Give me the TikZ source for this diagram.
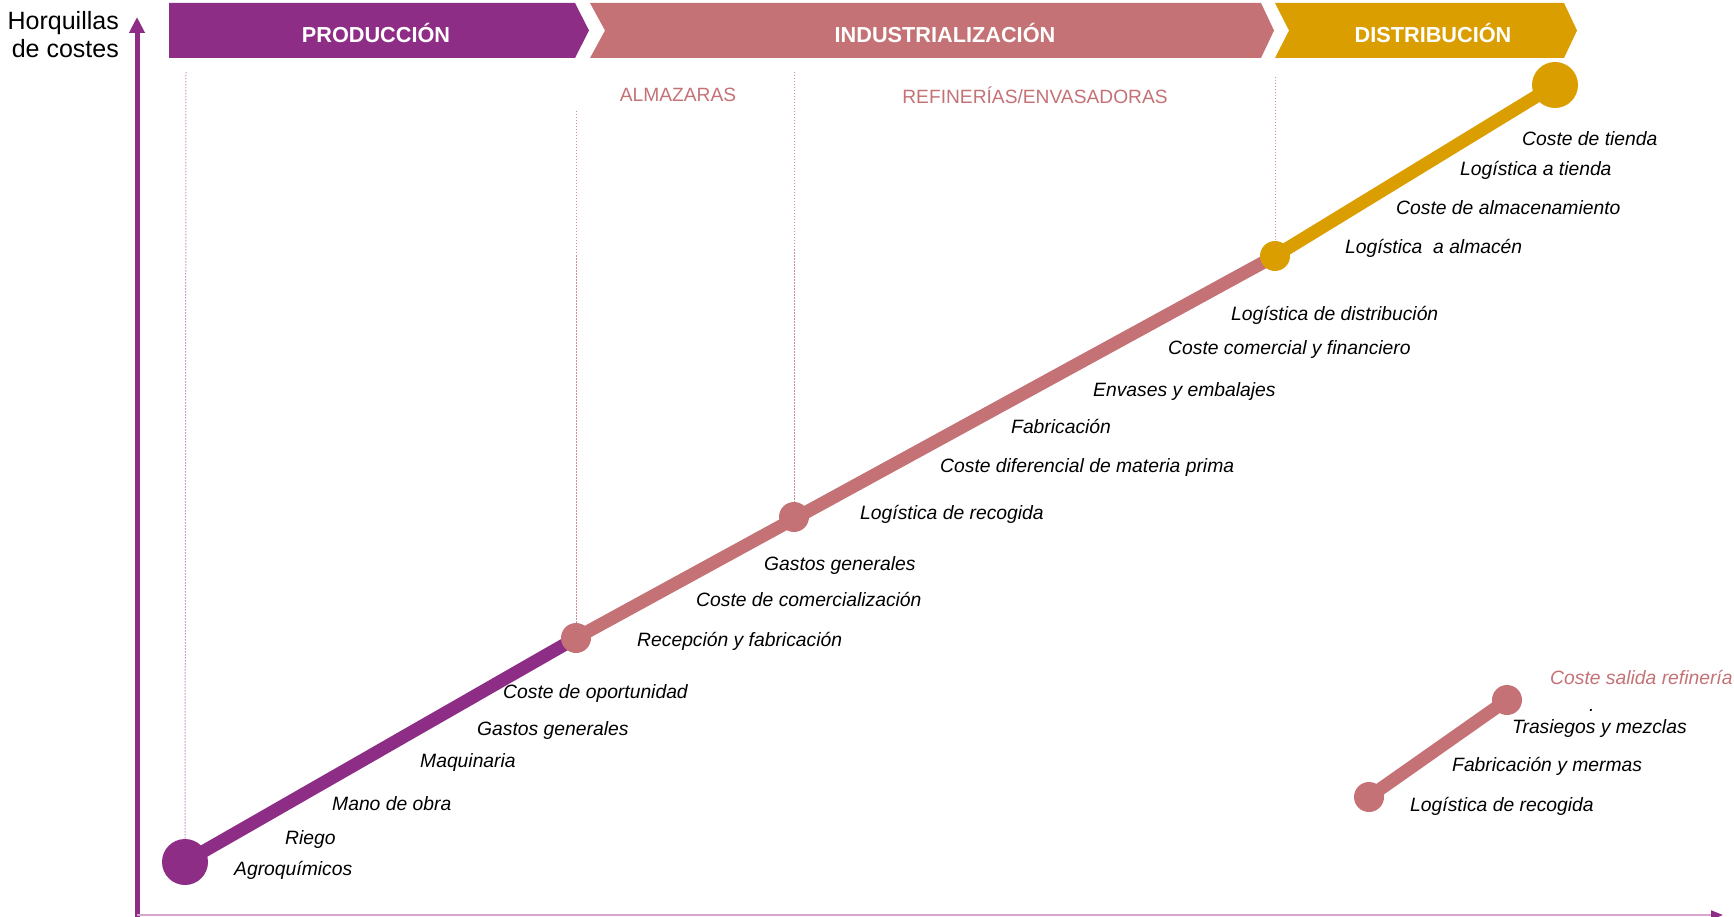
\documentclass[tikz,border=0pt]{standalone}
\usepackage{fontspec}
\setmainfont{Liberation Sans}
\usetikzlibrary{arrows.meta,backgrounds}
\definecolor{cpurple}{RGB}{142,45,134}
\definecolor{cpink}{RGB}{196,114,118}
\definecolor{cgold}{RGB}{219,158,0}
\definecolor{caxis}{RGB}{214,165,210}
\begin{document}
\begin{tikzpicture}[x=1pt,y=-1pt,
  lbl/.style={anchor=west,font=\fontsize{19.3}{23}\selectfont\itshape,inner sep=0pt,text height=14pt,text depth=4pt,yshift=-1.5pt},
  head/.style={font=\fontsize{21.7}{26}\selectfont\bfseries,text=white,inner sep=0pt},
  sub/.style={font=\fontsize{19.2}{23}\selectfont,text=cpink,inner sep=0pt},
  dot/.style={circle,inner sep=0pt,minimum size=30pt,fill=#1},
  bigdot/.style={circle,inner sep=0pt,minimum size=46pt,fill=#1},
  seg/.style={line width=13pt,draw=#1},
  guide/.style={draw=#1,line width=1pt,dash pattern=on 1.5pt off 1.5pt}]
\useasboundingbox (0,0) rectangle (1734,917);

% axes
\coordinate (ybot) at (137,917);
\coordinate (ytop) at (137,17);
\coordinate (xl) at (137,915);
\coordinate (xr) at (1723,915);
\draw[cpurple,line width=5pt,-{Triangle[length=16pt,width=15pt]}] (ybot) -- (ytop);
\draw[caxis,line width=2pt,-{Triangle[length=12pt,width=9pt,color=cpurple]}] (xl) -- (xr);
\node[anchor=east,align=right,font=\fontsize{25}{28}\selectfont,inner sep=0pt] (ylab) at (119,35) {Horquillas\\de costes};

% banners
\fill[cpurple] (169,3) -- (575,3) -- (589,30.5) -- (575,58) -- (169,58) -- cycle;
\fill[cpink] (590,3) -- (1261,3) -- (1274,30.5) -- (1261,58) -- (590,58) -- (605,30.5) -- cycle;
\fill[cgold] (1275,3) -- (1564,3) -- (1577,30.5) -- (1564,58) -- (1275,58) -- (1289,30.5) -- cycle;
\node[head] (hprod) at (376,33) {PRODUCCIÓN};
\node[head] (hind) at (945,33) {INDUSTRIALIZACIÓN};
\node[head] (hdist) at (1433,33) {DISTRIBUCIÓN};

\node[sub] (almaz) at (678,95) {ALMAZARAS};
\node[sub] (refin) at (1035,95) {REFINERÍAS/ENVASADORAS};

% guides
\coordinate (g1a) at (186,72);
\coordinate (g2a) at (576,111);
\coordinate (g3a) at (794,72);
\coordinate (g4a) at (1275,77);

% dots
\node[bigdot=cpurple] (d0) at (185,862) {};
\node[dot=cpink] (d1) at (576,638) {};
\node[dot=cpink] (d2) at (794,517) {};
\node[dot=cgold] (d3) at (1275,256) {};
\node[bigdot=cgold] (d4) at (1555,85) {};
\node[dot=cpink] (s0) at (1369,797) {};
\node[dot=cpink] (s1) at (1507,700) {};

\begin{scope}[on background layer]
\draw[guide=caxis!80!cpurple] (g1a) -- (d0.center);
\draw[guide=cpink!80] (g2a) -- (d1.center);
\draw[guide=cpink!80] (g3a) -- (d2.center);
\draw[guide=cpink!80] (g4a) -- (d3.center);
\draw[seg=cpurple] (d0.center) -- (d1.center);
\draw[seg=cpink] (d1.center) -- (d3.center);
\draw[seg=cgold] (d3.center) -- (d4.center);
\draw[seg=cpink] (s0.center) -- (s1.center);
\end{scope}

% labels
\node[lbl] (l1) at (234,869) {Agroquímicos};
\node[lbl] (l2) at (285,838) {Riego};
\node[lbl] (l3) at (332,804) {Mano de obra};
\node[lbl] (l4) at (420,761) {Maquinaria};
\node[lbl] (l5) at (477,729) {Gastos generales};
\node[lbl] (l6) at (503,692) {Coste de oportunidad};
\node[lbl] (l7) at (637,640) {Recepción y fabricación};
\node[lbl] (l8) at (696,600) {Coste de comercialización};
\node[lbl] (l9) at (764,564) {Gastos generales};
\node[lbl] (l10) at (860,513) {Logística de recogida};
\node[lbl] (l11) at (940,466) {Coste diferencial de materia prima};
\node[lbl] (l12) at (1011,427) {Fabricación};
\node[lbl] (l13) at (1093,390) {Envases y embalajes};
\node[lbl] (l14) at (1168,348) {Coste comercial y financiero};
\node[lbl] (l15) at (1231,314) {Logística de distribución};
\node[lbl] (l16) at (1345,247) {Logística\ \ a almacén};
\node[lbl] (l17) at (1396,208) {Coste de almacenamiento};
\node[lbl] (l18) at (1460,169) {Logística a tienda};
\node[lbl] (l19) at (1522,139) {Coste de tienda};

\node[lbl,text=cpink] (r0) at (1550,678) {Coste salida refinería};
\node[lbl] (rdot) at (1589,705) {.};
\node[lbl] (r1) at (1512,727) {Trasiegos y mezclas};
\node[lbl] (r2) at (1452,765) {Fabricación y mermas};
\node[lbl] (r3) at (1410,805) {Logística de recogida};
\end{tikzpicture}
\end{document}
